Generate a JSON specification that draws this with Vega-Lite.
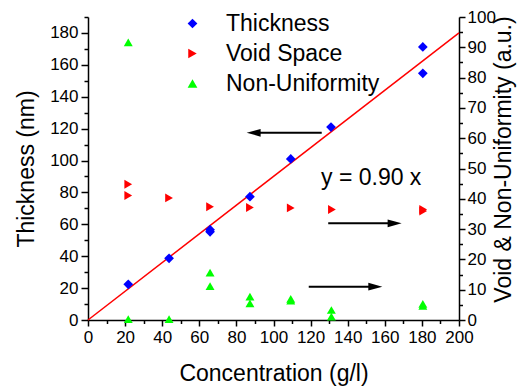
{
  "$schema": "https://vega.github.io/schema/vega-lite/v6.json",
  "width": 371,
  "height": 303,
  "autosize": "none",
  "padding": {"left": 88, "top": 17, "right": 60, "bottom": 69},
  "background": "white",
  "config": {
    "view": {"stroke": null},
    "font": "Liberation Sans",
    "axis": {
      "grid": false,
      "domainColor": "black",
      "domainWidth": 1.5,
      "tickColor": "black",
      "tickWidth": 1.5,
      "labelColor": "black",
      "labelFontSize": 17,
      "labelFont": "Liberation Sans",
      "titleColor": "black",
      "titleFontSize": 23,
      "titleFont": "Liberation Sans",
      "titleFontWeight": "normal"
    },
    "legend": {
      "orient": "none",
      "legendX": 93,
      "legendY": -5,
      "padding": 0,
      "labelFontSize": 23,
      "labelFont": "Liberation Sans",
      "labelColor": "black",
      "symbolSize": 95,
      "symbolStrokeWidth": 0,
      "rowPadding": 6,
      "labelOffset": 22,
      "labelLimit": 400
    }
  },
  "datasets": {
    "thickness": [
      {"series": "Thickness", "conc": 21.7, "value": 22.4},
      {"series": "Thickness", "conc": 43.7, "value": 38.7},
      {"series": "Thickness", "conc": 65.8, "value": 55.3},
      {"series": "Thickness", "conc": 65.8, "value": 56.6},
      {"series": "Thickness", "conc": 87.3, "value": 77.3},
      {"series": "Thickness", "conc": 109.3, "value": 101.0},
      {"series": "Thickness", "conc": 131.0, "value": 121.0},
      {"series": "Thickness", "conc": 180.5, "value": 171.2},
      {"series": "Thickness", "conc": 180.5, "value": 154.7}
    ],
    "void": [
      {"series": "Void Space", "conc": 21.7, "value": 44.8},
      {"series": "Void Space", "conc": 21.7, "value": 41.1},
      {"series": "Void Space", "conc": 43.7, "value": 40.3},
      {"series": "Void Space", "conc": 65.8, "value": 37.4},
      {"series": "Void Space", "conc": 87.3, "value": 37.1},
      {"series": "Void Space", "conc": 109.3, "value": 37.0},
      {"series": "Void Space", "conc": 131.5, "value": 36.5},
      {"series": "Void Space", "conc": 180.7, "value": 36.0},
      {"series": "Void Space", "conc": 180.7, "value": 36.5}
    ],
    "nonuni": [
      {"series": "Non-Uniformity", "conc": 21.7, "value": 91.6},
      {"series": "Non-Uniformity", "conc": 21.7, "value": 0.3},
      {"series": "Non-Uniformity", "conc": 43.7, "value": 0.3},
      {"series": "Non-Uniformity", "conc": 65.8, "value": 15.6},
      {"series": "Non-Uniformity", "conc": 65.8, "value": 11.2},
      {"series": "Non-Uniformity", "conc": 87.3, "value": 7.7},
      {"series": "Non-Uniformity", "conc": 87.3, "value": 5.5},
      {"series": "Non-Uniformity", "conc": 109.3, "value": 6.4},
      {"series": "Non-Uniformity", "conc": 109.3, "value": 7.0},
      {"series": "Non-Uniformity", "conc": 131.2, "value": 3.3},
      {"series": "Non-Uniformity", "conc": 131.2, "value": 1.1},
      {"series": "Non-Uniformity", "conc": 180.5, "value": 4.7},
      {"series": "Non-Uniformity", "conc": 180.5, "value": 5.3}
    ],
    "fit": [
      {"conc": 0, "value": 0},
      {"conc": 200, "value": 180}
    ],
    "arrowsLeft": [
      {"conc": 126, "end": 90, "head": 89.3, "value": 117.4}
    ],
    "arrowsRight": [
      {"conc": 129.5, "end": 165, "head": 165.3, "value": 31.9},
      {"conc": 119, "end": 155, "head": 154.9, "value": 11}
    ],
    "label": [
      {"conc": 125.6, "value": 84.6, "text": "y = 0.90 x"}
    ]
  },
  "layer": [
    {
      "encoding": {
        "x": {"field": "conc", "type": "quantitative", "scale": {"domain": [0, 200], "nice": false},
          "axis": {
            "title": "Concentration (g/l)",
            "values": [0,10,20,30,40,50,60,70,80,90,100,110,120,130,140,150,160,170,180,190,200],
            "labelExpr": "datum.value % 20 === 0 ? datum.label : ''",
            "tickSize": {"condition": {"test": "datum.value % 20 === 0", "value": 6}, "value": 3.5},
            "labelPadding": 3,
            "labelFlush": false,
            "labelOverlap": false,
            "titleY": 60,
            "titleBaseline": "alphabetic"
          }},
        "y": {"field": "value", "type": "quantitative", "scale": {"domain": [0, 190], "nice": false},
          "axis": {
            "title": "Thickness (nm)",
            "orient": "left",
            "values": [0,10,20,30,40,50,60,70,80,90,100,110,120,130,140,150,160,170,180,190],
            "labelExpr": "datum.value % 20 === 0 ? datum.label : ''",
            "tickSize": {"condition": {"test": "datum.value % 20 === 0", "value": 7}, "value": 4},
            "labelPadding": 3,
            "labelOverlap": false,
            "labelFlush": false,
            "titleAngle": 270,
            "titleX": -55,
            "titleY": 151.5,
            "titleAlign": "center",
            "titleBaseline": "alphabetic"
          }}
      },
      "layer": [
        {
          "data": {"name": "fit"},
          "mark": {"type": "line", "color": "#ff0000", "strokeWidth": 1.5}
        },
        {
          "data": {"name": "thickness"},
          "mark": {"type": "point", "filled": true, "opacity": 1, "size": 95},
          "encoding": {
            "color": {"field": "series", "type": "nominal", "title": null,
              "scale": {"domain": ["Thickness", "Void Space", "Non-Uniformity"], "range": ["#0000ff", "#ff0000", "#00ff00"]}},
            "shape": {"field": "series", "type": "nominal", "title": null,
              "scale": {"domain": ["Thickness", "Void Space", "Non-Uniformity"], "range": ["diamond", "triangle-right", "triangle-up"]}}
          }
        },
        {
          "data": {"name": "arrowsLeft"},
          "mark": {"type": "rule", "color": "black", "strokeWidth": 2},
          "encoding": {
            "x2": {"field": "end"}
          }
        },
        {
          "data": {"name": "arrowsLeft"},
          "mark": {"type": "point", "shape": "M-1,0L1,-0.55L1,0.55Z", "filled": true, "color": "black", "opacity": 1, "size": 196},
          "encoding": {
            "x": {"field": "head", "type": "quantitative"}
          }
        },
        {
          "data": {"name": "label"},
          "mark": {"type": "text", "align": "left", "baseline": "alphabetic", "fontSize": 23, "font": "Liberation Sans", "color": "black"},
          "encoding": {
            "text": {"field": "text"}
          }
        }
      ]
    },
    {
      "encoding": {
        "x": {"field": "conc", "type": "quantitative", "scale": {"domain": [0, 200], "nice": false},
          "axis": {
            "title": "Concentration (g/l)",
            "values": [0,10,20,30,40,50,60,70,80,90,100,110,120,130,140,150,160,170,180,190,200],
            "labelExpr": "datum.value % 20 === 0 ? datum.label : ''",
            "tickSize": {"condition": {"test": "datum.value % 20 === 0", "value": 6}, "value": 3.5},
            "labelPadding": 3,
            "labelFlush": false,
            "labelOverlap": false,
            "titleY": 60,
            "titleBaseline": "alphabetic"
          }},
        "y": {"field": "value", "type": "quantitative", "scale": {"domain": [0, 100], "nice": false},
          "axis": {
            "title": "Void & Non-Uniformity (a.u.)",
            "orient": "right",
            "values": [0,5,10,15,20,25,30,35,40,45,50,55,60,65,70,75,80,85,90,95,100],
            "labelExpr": "datum.value % 10 === 0 ? datum.label : ''",
            "tickSize": {"condition": {"test": "datum.value % 10 === 0", "value": 6}, "value": 3.5},
            "labelPadding": 2,
            "labelOverlap": false,
            "labelFlush": false,
            "titleAngle": 270,
            "titleX": 51,
            "titleY": 142,
            "titleAlign": "center",
            "titleBaseline": "alphabetic"
          }}
      },
      "layer": [
        {
          "data": {"name": "void"},
          "mark": {"type": "point", "filled": true, "opacity": 1, "size": 80},
          "encoding": {
            "color": {"field": "series", "type": "nominal", "title": null,
              "scale": {"domain": ["Thickness", "Void Space", "Non-Uniformity"], "range": ["#0000ff", "#ff0000", "#00ff00"]}},
            "shape": {"field": "series", "type": "nominal", "title": null,
              "scale": {"domain": ["Thickness", "Void Space", "Non-Uniformity"], "range": ["diamond", "triangle-right", "triangle-up"]}}
          }
        },
        {
          "data": {"name": "nonuni"},
          "mark": {"type": "point", "filled": true, "opacity": 1, "size": 80},
          "encoding": {
            "color": {"field": "series", "type": "nominal", "title": null},
            "shape": {"field": "series", "type": "nominal", "title": null}
          }
        },
        {
          "data": {"name": "arrowsRight"},
          "mark": {"type": "rule", "color": "black", "strokeWidth": 2},
          "encoding": {
            "x2": {"field": "end"}
          }
        },
        {
          "data": {"name": "arrowsRight"},
          "mark": {"type": "point", "shape": "M1,0L-1,-0.55L-1,0.55Z", "filled": true, "color": "black", "opacity": 1, "size": 196},
          "encoding": {
            "x": {"field": "head", "type": "quantitative"}
          }
        }
      ]
    }
  ],
  "resolve": {"scale": {"y": "independent"}}
}
